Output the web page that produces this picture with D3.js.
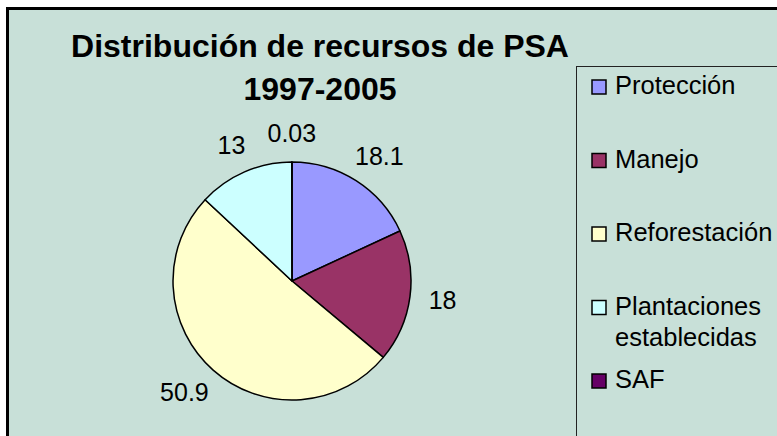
<!DOCTYPE html>
<html>
<head>
<meta charset="utf-8">
<script src="https://cdn.jsdelivr.net/npm/d3@7"></script>
<style>
  body { margin: 0; background: #fff; }
  text { font-family: "Liberation Sans", Arial, sans-serif; fill: #000; }
</style>
</head>
<body>
<div id="chart"></div>
<script>
// chart data
var categories = ["Protección", "Manejo", "Reforestación", "Plantaciones establecidas", "SAF"];
var values = [18.1, 18, 50.9, 13, 0.03];
var labels = ["18.1", "18", "50.9", "13", "0.03"];
var colors = ["#9999FF", "#993366", "#FFFFCC", "#CCFFFF", "#660066"];
var titleLines = ["Distribución de recursos de PSA", "1997-2005"];

var width = 777,
  height = 436;

var svg = d3
  .select("#chart")
  .append("svg")
  .attr("width", width)
  .attr("height", height);

// chart area with its heavy frame
svg
  .append("rect")
  .attr("x", 7.5)
  .attr("y", 8.5)
  .attr("width", 800)
  .attr("height", 500)
  .attr("fill", "#C8E0D8")
  .attr("stroke", "#000")
  .attr("stroke-width", 3);

// title
svg
  .append("g")
  .selectAll("text")
  .data(titleLines)
  .enter()
  .append("text")
  .attr("x", 320)
  .attr("y", function(d, i) {
    return 57 + i * 43;
  })
  .attr("text-anchor", "middle")
  .attr("font-size", "32px")
  .attr("font-weight", "bold")
  .text(function(d) {
    return d;
  });

// pie
var radius = 119;
var cx = 292,
  cy = 281;

var pie = d3
  .pie()
  .sort(null)
  .value(function(d) {
    return d;
  });

var arc = d3.arc().innerRadius(0).outerRadius(radius);
var arcs = pie(values);

var g = svg.append("g").attr("transform", "translate(" + cx + "," + cy + ")");

g.selectAll(".slice")
  .data(arcs)
  .enter()
  .append("path")
  .attr("class", "slice")
  .attr("d", arc)
  .attr("fill", function(d, i) {
    return colors[i];
  })
  .attr("stroke", "#000")
  .attr("stroke-width", 1.5)
  .attr("stroke-linejoin", "round");

// data labels, pushed out of the pie along the middle of each slice
var pad = 19;
var labelSel = g
  .selectAll(".lbl")
  .data(arcs)
  .enter()
  .append("text")
  .attr("class", "lbl")
  .attr("font-size", "25px")
  .attr("text-anchor", "middle")
  .text(function(d, i) {
    return labels[i];
  });

labelSel.each(function(d) {
  var a = (d.startAngle + d.endAngle) / 2;
  var s = Math.sin(a),
    c = Math.cos(a);
  var w = this.getComputedTextLength();
  var h = 20;
  var x = (radius + pad) * s + s * w / 2;
  var y = -(radius + pad) * c - c * h / 2;
  d3.select(this)
    .attr("x", x)
    .attr("y", y + 9);
});

// legend box
svg
  .append("rect")
  .attr("x", 576.5)
  .attr("y", 66.5)
  .attr("width", 300)
  .attr("height", 500)
  .attr("fill", "none")
  .attr("stroke", "#222")
  .attr("stroke-width", 1);

var ly = d3
  .scalePoint()
  .domain(categories)
  .range([94, 388]);

var legend = svg
  .append("g")
  .selectAll(".item")
  .data(categories)
  .enter()
  .append("g")
  .attr("class", "item")
  .attr("transform", function(d) {
    return "translate(0," + ly(d) + ")";
  });

legend
  .append("rect")
  .attr("x", 592)
  .attr("y", -14)
  .attr("width", 14)
  .attr("height", 14)
  .attr("fill", function(d, i) {
    return colors[i];
  })
  .attr("stroke", "#000")
  .attr("stroke-width", 1.5);

// legend text, wrapped word by word when too wide
legend
  .append("text")
  .attr("x", 615)
  .attr("y", 0)
  .attr("font-size", "25.5px")
  .each(function(d) {
    var t = d3.select(this);
    var words = d.split(" ");
    var line = [];
    var lineNo = 0;
    var tspan = t.append("tspan").attr("x", 615).attr("y", 0);
    words.forEach(function(word) {
      line.push(word);
      tspan.text(line.join(" "));
      if (tspan.node().getComputedTextLength() > 158 && line.length > 1) {
        line.pop();
        tspan.text(line.join(" "));
        line = [word];
        lineNo++;
        tspan = t
          .append("tspan")
          .attr("x", 615)
          .attr("y", lineNo * 31)
          .text(word);
      }
    });
  });
</script>
</body>
</html>
